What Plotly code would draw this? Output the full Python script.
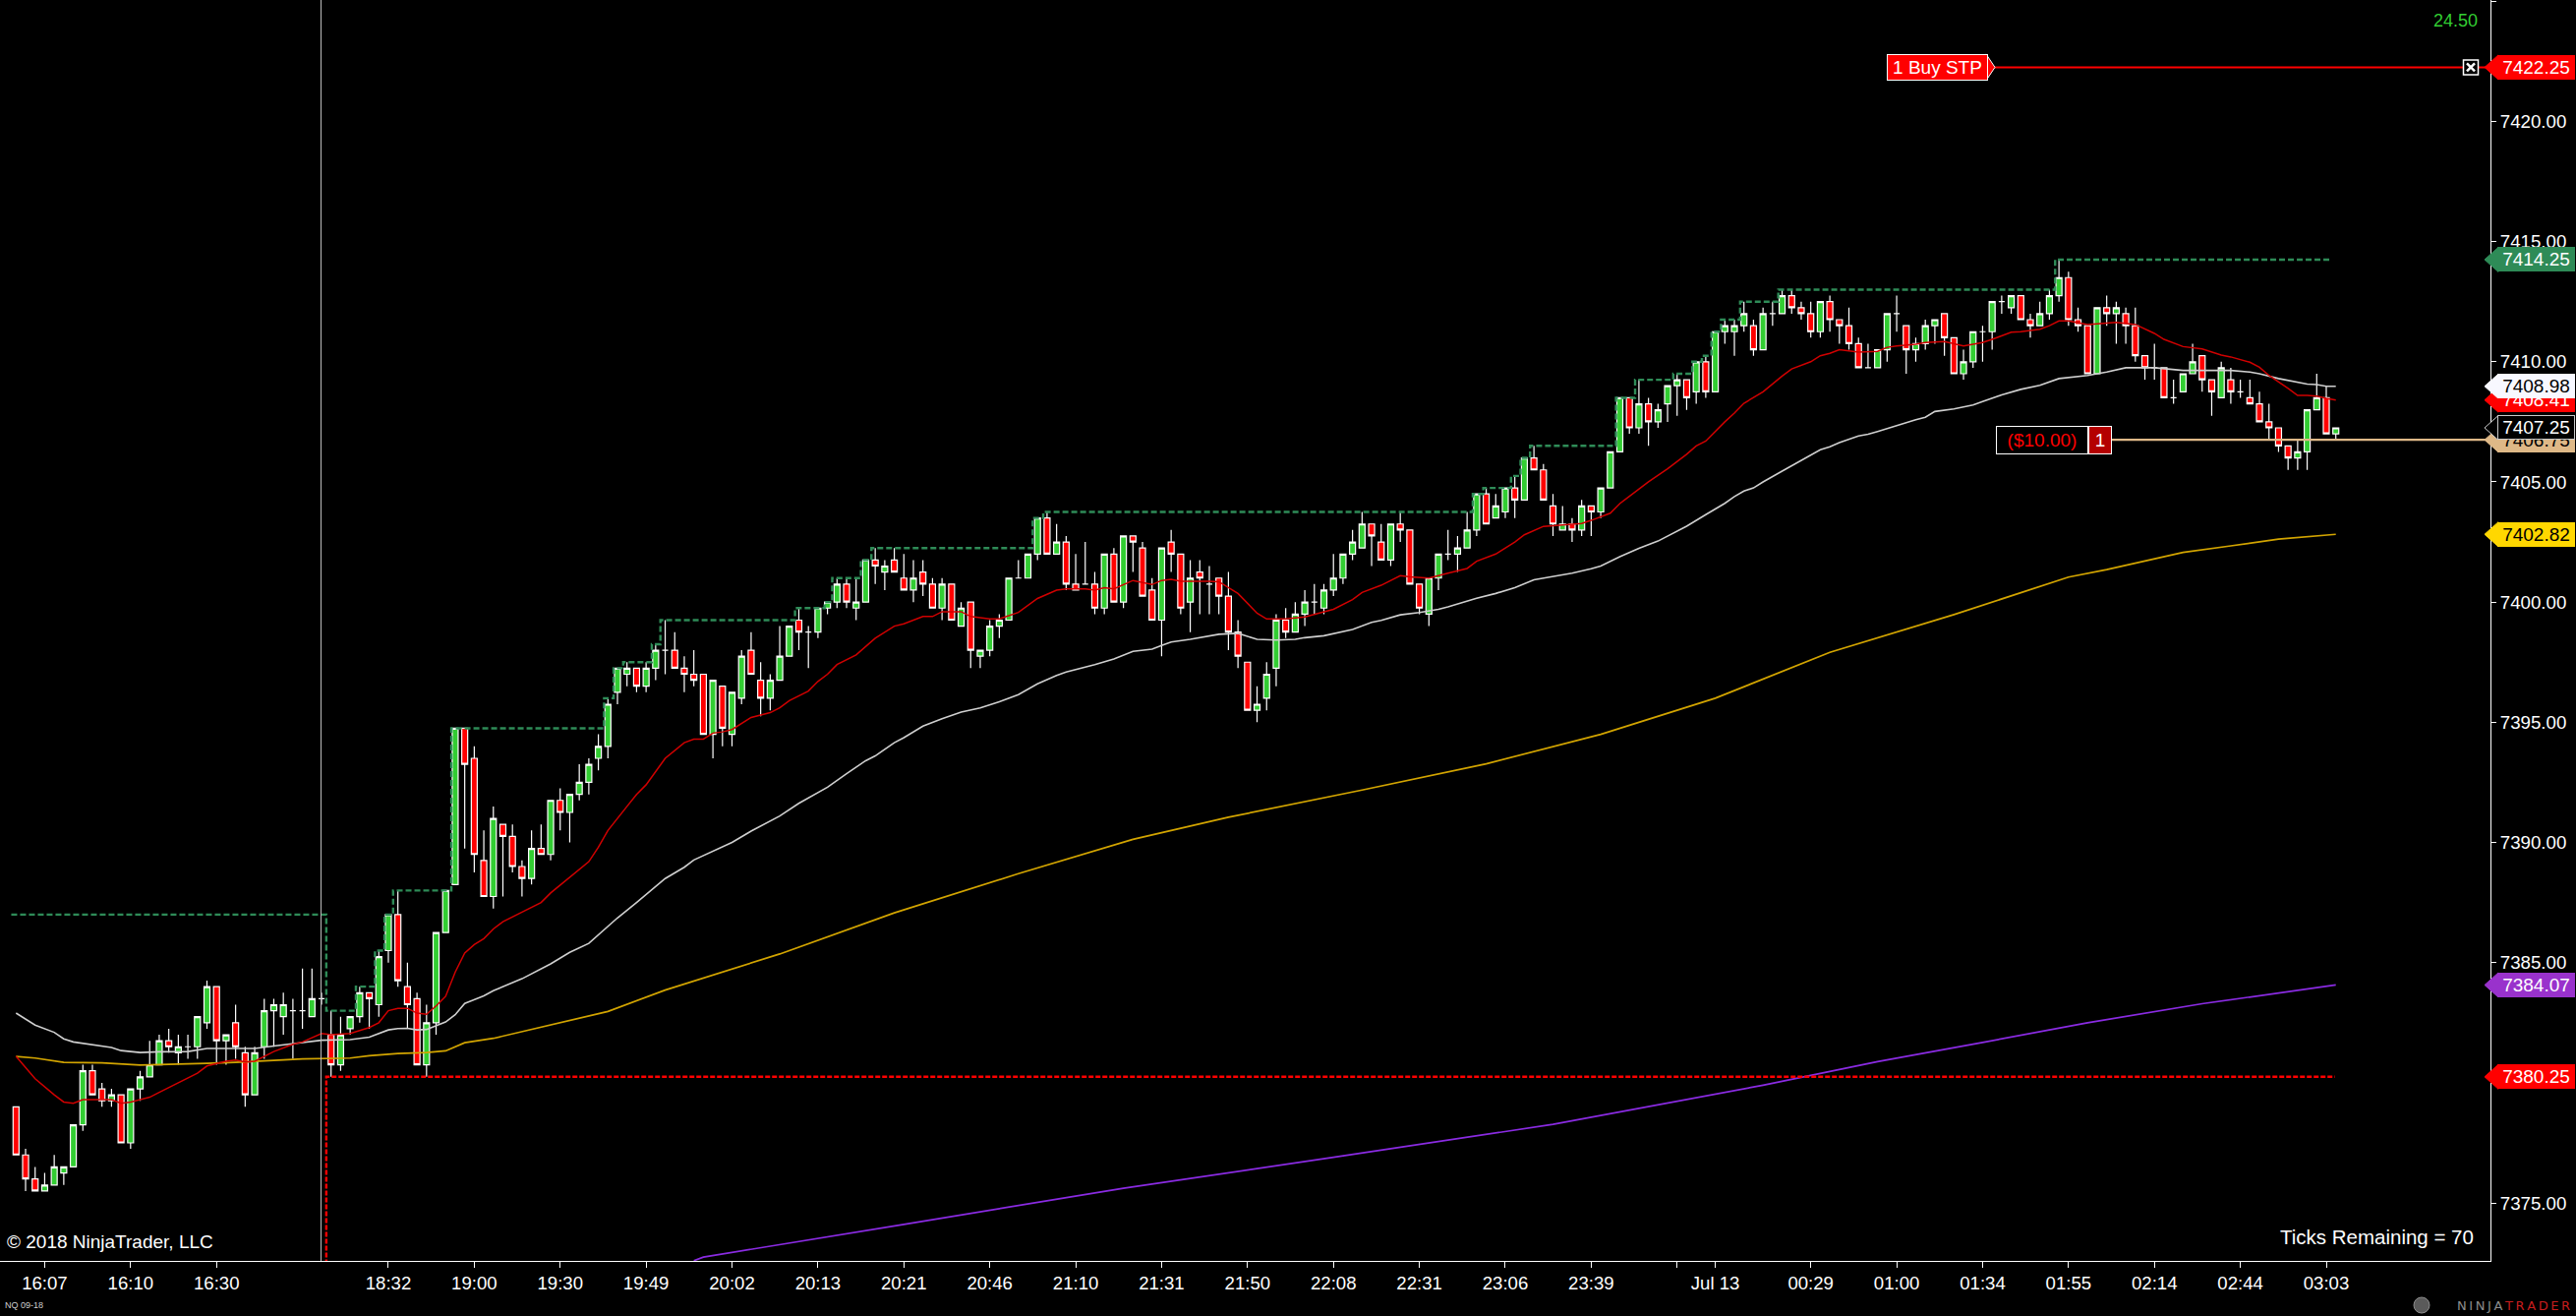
import plotly.graph_objects as go

# ---------------- DATA ----------------
opens = [
7379.0, 7377.0, 7376.0, 7375.5, 7375.75, 7376.25, 7376.5, 7378.25, 7380.5, 7379.75,
7379.25, 7379.5, 7377.5, 7379.75, 7380.25, 7380.75, 7381.75, 7381.25, 7381.5, 7381.5,
7382.5, 7384.0, 7381.75, 7382.5, 7381.25, 7379.5, 7381.5, 7383.0, 7382.75, 7383.0,
7383.0, 7382.75, 7383.5, 7382.0, 7380.75, 7382.25, 7382.75, 7383.75, 7383.25, 7385.5,
7387.0, 7384.0, 7383.5, 7380.75, 7382.5, 7386.25, 7388.25, 7394.75, 7393.5, 7389.25,
7387.75, 7390.75, 7390.25, 7389.0, 7388.5, 7389.75, 7389.5, 7391.75, 7391.25, 7392.0,
7392.5, 7393.5, 7394.0, 7396.25, 7397.0, 7397.25, 7396.5, 7397.25, 7398.0, 7398.0,
7397.25, 7397.0, 7397.0, 7394.5, 7396.5, 7394.5, 7396.0, 7398.0, 7396.75, 7396.0,
7396.75, 7397.75, 7399.25, 7398.75, 7398.75, 7399.75, 7400.0, 7400.75, 7399.75, 7400.0,
7401.75, 7401.25, 7401.75, 7401.0, 7400.5, 7401.25, 7400.75, 7399.75, 7400.75, 7399.0,
7400.0, 7397.75, 7398.0, 7399.0, 7399.25, 7401.0, 7401.0, 7402.0, 7403.5, 7402.0,
7402.5, 7400.75, 7400.75, 7400.75, 7399.75, 7402.0, 7400.0, 7402.75, 7402.25, 7400.5,
7399.25, 7402.5, 7402.0, 7400.0, 7401.25, 7400.75, 7401.0, 7400.25, 7398.75, 7397.5,
7395.5, 7396.0, 7397.25, 7399.25, 7398.75, 7399.5, 7400.0, 7399.75, 7400.5, 7401.0,
7402.0, 7402.25, 7403.25, 7402.5, 7401.75, 7403.25, 7403.0, 7400.75, 7399.5, 7401.0,
7402.0, 7402.0, 7402.25, 7403.0, 7404.5, 7403.5, 7403.75, 7404.75, 7404.25, 7406.0,
7405.5, 7404.0, 7403.0, 7403.25, 7403.0, 7404.0, 7403.75, 7404.75, 7406.25, 7408.5,
7407.25, 7408.25, 7407.5, 7408.25, 7409.0, 7409.25, 7408.75, 7410.0, 7408.75, 7411.25,
7411.25, 7411.5, 7411.5, 7410.5, 7412.0, 7412.0, 7412.75, 7412.25, 7412.0, 7411.25,
7412.5, 7411.75, 7411.5, 7410.75, 7409.75, 7409.75, 7410.5, 7412.0, 7411.5, 7410.5,
7410.75, 7411.5, 7412.0, 7411.0, 7409.5, 7410.0, 7411.25, 7411.25, 7412.5, 7412.25,
7412.75, 7411.75, 7411.5, 7412.0, 7412.75, 7413.5, 7411.75, 7411.5, 7409.5, 7412.25,
7412.0, 7412.0, 7411.5, 7410.25, 7409.75, 7409.75, 7408.5, 7408.75, 7409.5, 7410.25,
7409.25, 7408.5, 7409.25, 7408.75, 7408.5, 7408.25, 7407.5, 7407.25, 7406.5, 7406.0,
7406.25, 7408.0, 7408.5, 7407.0,
]
highs = [
7379.0, 7377.25, 7376.5, 7376.25, 7377.0, 7376.5, 7378.25, 7380.75, 7380.75, 7380.0,
7379.75, 7379.5, 7379.75, 7380.5, 7381.75, 7382.0, 7382.25, 7382.0, 7382.0, 7382.75,
7384.25, 7384.0, 7382.0, 7383.25, 7381.5, 7381.5, 7383.5, 7383.5, 7383.75, 7383.5,
7384.75, 7384.75, 7383.75, 7383.0, 7382.75, 7382.75, 7384.0, 7383.75, 7385.5, 7387.0,
7388.0, 7385.0, 7383.75, 7383.25, 7386.25, 7388.0, 7394.75, 7394.75, 7394.0, 7390.5,
7391.5, 7390.75, 7390.75, 7389.25, 7390.5, 7390.75, 7391.75, 7392.25, 7392.0, 7393.25,
7393.5, 7394.5, 7396.0, 7397.25, 7397.5, 7397.25, 7397.5, 7398.25, 7399.25, 7398.75,
7397.75, 7398.0, 7397.0, 7396.75, 7396.5, 7396.25, 7398.0, 7398.75, 7397.5, 7397.0,
7399.0, 7399.0, 7399.75, 7399.0, 7399.75, 7400.0, 7401.0, 7401.0, 7401.0, 7401.75,
7402.25, 7401.75, 7402.25, 7402.0, 7401.75, 7401.75, 7401.0, 7401.0, 7400.75, 7400.0,
7400.0, 7398.0, 7399.25, 7399.5, 7401.0, 7401.75, 7402.0, 7403.5, 7403.75, 7403.25,
7402.75, 7402.0, 7402.5, 7401.25, 7402.0, 7402.25, 7402.75, 7402.75, 7402.5, 7401.0,
7402.25, 7403.0, 7402.0, 7401.75, 7401.75, 7401.5, 7401.0, 7401.25, 7399.25, 7397.5,
7396.5, 7397.5, 7399.5, 7399.75, 7400.0, 7400.5, 7400.75, 7400.75, 7402.0, 7402.0,
7403.0, 7403.75, 7403.25, 7403.25, 7403.25, 7403.75, 7403.0, 7400.75, 7401.0, 7402.0,
7403.0, 7402.75, 7403.75, 7404.5, 7404.75, 7404.5, 7404.75, 7405.25, 7406.0, 7406.5,
7405.75, 7404.5, 7404.0, 7403.5, 7404.25, 7404.0, 7404.75, 7406.25, 7408.5, 7408.5,
7409.25, 7408.5, 7408.25, 7409.0, 7409.5, 7409.25, 7410.0, 7410.25, 7411.25, 7411.75,
7411.75, 7412.5, 7411.75, 7412.25, 7412.5, 7413.0, 7413.0, 7412.5, 7412.5, 7412.5,
7412.75, 7411.75, 7412.25, 7411.0, 7410.75, 7410.5, 7412.0, 7412.75, 7411.5, 7411.0,
7411.75, 7411.75, 7412.0, 7411.0, 7410.5, 7411.25, 7411.5, 7412.5, 7412.75, 7412.75,
7412.75, 7412.0, 7412.5, 7413.0, 7414.25, 7413.75, 7412.25, 7411.5, 7412.25, 7412.75,
7412.5, 7412.25, 7412.25, 7410.25, 7410.75, 7409.75, 7409.25, 7409.5, 7410.75, 7410.25,
7409.25, 7410.0, 7409.75, 7409.25, 7409.25, 7408.75, 7408.25, 7407.25, 7406.5, 7406.75,
7408.0, 7409.5, 7409.0, 7407.25,
]
lows = [
7377.0, 7375.5, 7375.5, 7375.5, 7375.75, 7375.75, 7376.5, 7378.0, 7379.5, 7379.0,
7379.0, 7377.5, 7377.25, 7379.25, 7380.25, 7380.75, 7381.25, 7380.75, 7381.0, 7381.0,
7382.25, 7380.75, 7380.75, 7381.0, 7379.0, 7379.5, 7381.0, 7381.5, 7382.0, 7381.0,
7382.25, 7382.75, 7383.25, 7380.25, 7380.5, 7382.0, 7382.5, 7382.25, 7382.75, 7385.0,
7384.0, 7382.25, 7380.75, 7380.25, 7382.0, 7386.25, 7388.25, 7389.75, 7388.75, 7387.75,
7387.25, 7387.75, 7388.75, 7387.75, 7388.25, 7389.5, 7389.25, 7390.5, 7390.0, 7391.75,
7392.0, 7393.0, 7393.5, 7395.75, 7396.5, 7396.25, 7396.25, 7396.75, 7397.0, 7397.25,
7396.25, 7396.5, 7394.5, 7393.5, 7394.0, 7394.0, 7395.75, 7397.0, 7395.25, 7395.5,
7396.75, 7397.75, 7398.0, 7397.25, 7398.5, 7399.5, 7399.75, 7399.75, 7399.25, 7400.0,
7400.75, 7400.5, 7401.25, 7400.5, 7400.0, 7400.25, 7399.75, 7399.25, 7399.25, 7399.0,
7397.25, 7397.25, 7397.75, 7398.5, 7399.25, 7401.0, 7401.0, 7401.75, 7402.0, 7402.0,
7400.5, 7400.5, 7400.75, 7399.5, 7399.5, 7400.0, 7399.75, 7401.25, 7400.25, 7399.25,
7397.75, 7401.25, 7399.5, 7398.75, 7399.5, 7399.5, 7399.5, 7398.0, 7397.25, 7395.5,
7395.0, 7395.5, 7396.5, 7398.5, 7398.75, 7399.0, 7399.5, 7399.5, 7400.25, 7400.75,
7401.75, 7402.25, 7401.5, 7401.75, 7401.5, 7402.5, 7400.75, 7399.5, 7399.0, 7400.5,
7401.75, 7401.25, 7402.25, 7402.75, 7403.25, 7403.5, 7403.5, 7403.5, 7404.25, 7405.5,
7404.25, 7402.75, 7403.0, 7402.5, 7402.75, 7402.75, 7403.5, 7404.75, 7406.25, 7407.0,
7407.0, 7406.5, 7407.25, 7407.5, 7407.75, 7408.0, 7408.25, 7408.5, 7408.75, 7410.75,
7410.25, 7411.25, 7410.25, 7410.5, 7411.5, 7412.0, 7412.0, 7411.75, 7411.0, 7411.0,
7411.25, 7410.75, 7410.5, 7409.75, 7409.75, 7409.75, 7410.0, 7411.25, 7409.5, 7410.0,
7410.5, 7410.75, 7410.25, 7409.5, 7409.25, 7409.75, 7410.0, 7410.5, 7412.0, 7412.0,
7411.75, 7411.0, 7411.5, 7411.75, 7412.5, 7411.5, 7411.25, 7409.5, 7409.5, 7411.5,
7410.75, 7410.75, 7410.0, 7409.25, 7409.25, 7408.5, 7408.25, 7408.75, 7409.5, 7408.75,
7407.75, 7408.5, 7408.25, 7408.5, 7408.25, 7407.5, 7406.75, 7406.25, 7405.5, 7405.5,
7405.5, 7408.0, 7407.0, 7406.75,
]
closes = [
7377.0, 7376.0, 7375.5, 7375.75, 7376.5, 7376.5, 7378.25, 7380.5, 7379.5, 7379.25,
7379.5, 7377.5, 7379.75, 7380.25, 7380.75, 7381.75, 7381.5, 7381.5, 7381.5, 7382.75,
7384.0, 7381.75, 7382.0, 7381.5, 7379.5, 7381.25, 7383.0, 7383.25, 7383.25, 7383.0,
7383.0, 7383.5, 7383.5, 7380.75, 7382.0, 7382.75, 7383.75, 7383.5, 7385.25, 7387.0,
7384.25, 7383.25, 7380.75, 7382.5, 7386.25, 7388.0, 7394.75, 7393.25, 7389.5, 7387.75,
7391.0, 7390.25, 7389.0, 7388.5, 7389.75, 7389.5, 7391.75, 7391.25, 7392.0, 7392.5,
7393.25, 7394.0, 7395.75, 7397.25, 7397.25, 7396.5, 7397.25, 7398.0, 7398.0, 7397.25,
7397.0, 7396.75, 7394.5, 7396.75, 7394.75, 7396.25, 7397.75, 7397.0, 7396.0, 7396.75,
7397.75, 7399.0, 7398.75, 7398.75, 7399.75, 7400.0, 7400.75, 7400.0, 7400.0, 7401.75,
7401.5, 7401.5, 7401.25, 7400.5, 7401.0, 7400.75, 7399.75, 7400.75, 7399.25, 7399.75,
7398.0, 7398.0, 7399.0, 7399.25, 7401.0, 7401.0, 7402.0, 7403.5, 7402.0, 7402.5,
7400.75, 7400.5, 7400.75, 7399.75, 7402.0, 7400.0, 7402.75, 7402.5, 7400.25, 7399.25,
7402.25, 7402.0, 7399.75, 7401.0, 7401.0, 7400.75, 7400.25, 7398.75, 7397.75, 7395.5,
7395.75, 7397.0, 7399.25, 7398.75, 7399.5, 7400.0, 7400.0, 7400.5, 7401.0, 7402.0,
7402.5, 7403.25, 7402.75, 7401.75, 7403.25, 7403.0, 7400.75, 7399.75, 7401.0, 7402.0,
7402.0, 7402.25, 7403.0, 7404.5, 7403.25, 7404.0, 7404.75, 7404.25, 7406.0, 7405.5,
7404.25, 7403.25, 7403.25, 7403.0, 7404.0, 7403.75, 7404.75, 7406.25, 7408.5, 7407.25,
7408.25, 7407.5, 7408.0, 7409.0, 7409.25, 7408.5, 7410.0, 7408.75, 7411.25, 7411.5,
7411.5, 7412.0, 7410.5, 7412.0, 7412.0, 7412.75, 7412.25, 7412.0, 7411.25, 7412.5,
7411.75, 7411.5, 7410.75, 7409.75, 7409.75, 7410.5, 7412.0, 7412.0, 7410.5, 7410.75,
7411.5, 7411.75, 7411.0, 7409.5, 7410.0, 7411.25, 7411.25, 7412.5, 7412.5, 7412.75,
7411.75, 7411.5, 7412.0, 7412.75, 7413.5, 7411.75, 7411.5, 7409.5, 7412.25, 7412.0,
7412.25, 7411.5, 7410.25, 7409.75, 7409.75, 7408.5, 7408.5, 7409.5, 7410.0, 7409.25,
7408.75, 7409.75, 7408.75, 7408.75, 7408.25, 7407.5, 7407.25, 7406.5, 7406.0, 7406.25,
7408.0, 7408.5, 7407.0, 7407.25,
]

# fast moving average (red), sampled vertices (bar, value)
fast_ma_bar = [0, 2, 4, 5, 6, 7, 10, 11, 12, 14, 15, 17, 19, 20, 22, 23, 24, 25, 27, 29,
               30, 32, 33, 35, 37, 38, 39, 40, 41, 42, 43, 44, 45, 46, 47, 48, 49, 50, 51, 53,
               55, 56, 59, 60, 61, 62, 64, 65, 66, 68, 70, 71, 72, 73, 74, 75, 77, 78, 79, 80,
               81, 83, 84, 85, 86, 88, 90, 92, 93, 95, 96, 97, 99, 100, 102, 103, 105, 107, 109, 110,
               112, 113, 114, 115, 117, 119, 120, 121, 122, 125, 126, 128, 130, 131, 133, 135, 138, 140, 141, 143,
               145, 146, 148, 150, 152, 153, 155, 157, 158, 160, 162, 164, 165, 167, 168, 170, 171, 173, 175, 176,
               177, 179, 180, 181, 182, 183, 185, 186, 188, 189, 190, 191, 193, 194, 195, 196, 197, 199, 200, 202,
               204, 206, 207, 209, 210, 212, 213, 214, 215, 217, 219, 220, 222, 224, 225, 227, 229, 230, 231, 232,
               234, 235, 236, 238, 239, 240, 241, 242, 243]
fast_ma_val = [7381.1, 7380.17, 7379.5, 7379.2, 7379.15, 7379.3, 7379.3, 7379.15, 7379.2, 7379.4,
               7379.6, 7380.0, 7380.4, 7380.7, 7380.9, 7380.95, 7380.87, 7380.9, 7381.3, 7381.6,
               7381.7, 7382.05, 7382.0, 7382.05, 7382.3, 7382.5, 7383.0, 7383.1, 7383.1, 7382.9,
               7382.85, 7383.2, 7383.6, 7384.6, 7385.4, 7385.75, 7386.0, 7386.4, 7386.7, 7387.1,
               7387.5, 7387.9, 7388.9, 7389.2, 7389.8, 7390.5, 7391.5, 7392.0, 7392.4, 7393.5,
               7394.15, 7394.3, 7394.3, 7394.55, 7394.6, 7394.7, 7395.2, 7395.3, 7395.4, 7395.6,
               7395.9, 7396.3, 7396.7, 7397.0, 7397.4, 7397.8, 7398.5, 7399.0, 7399.1, 7399.4,
               7399.4, 7399.6, 7399.6, 7399.4, 7399.3, 7399.3, 7399.57, 7400.15, 7400.5, 7400.55,
               7400.55, 7400.5, 7400.6, 7400.55, 7400.9, 7400.73, 7400.9, 7400.95, 7400.87, 7400.87,
               7400.85, 7400.36, 7399.54, 7399.3, 7399.3, 7399.38, 7399.7, 7400.1, 7400.4, 7400.7,
               7401.1, 7401.05, 7401.0, 7401.2, 7401.4, 7401.7, 7402.0, 7402.5, 7402.8, 7403.15,
               7403.2, 7403.27, 7403.4, 7403.7, 7404.1, 7404.7, 7405.0, 7405.55, 7406.15, 7406.5,
               7406.7, 7407.5, 7407.86, 7408.27, 7408.5, 7408.75, 7409.4, 7409.7, 7410.0, 7410.25,
               7410.35, 7410.5, 7410.4, 7410.4, 7410.43, 7410.6, 7410.66, 7410.73, 7410.8, 7410.84,
               7410.66, 7410.8, 7410.93, 7411.23, 7411.25, 7411.35, 7411.5, 7411.7, 7411.7, 7411.55,
               7411.6, 7411.64, 7411.55, 7411.18, 7410.93, 7410.63, 7410.53, 7410.39, 7410.28, 7410.2,
               7409.98, 7409.77, 7409.43, 7408.89, 7408.6, 7408.6, 7408.57, 7408.48, 7408.41]

# medium moving average (white)
mid_ma_bar = [0, 2, 4, 5, 6, 8, 10, 11, 13, 15, 18, 20, 22, 24, 25, 27, 30, 32, 35, 37,
              39, 40, 41, 42, 43, 45, 46, 47, 49, 50, 53, 56, 58, 60, 63, 65, 68, 70, 71, 73,
              75, 77, 79, 80, 82, 84, 85, 87, 89, 90, 92, 93, 95, 97, 99, 101, 103, 105, 107, 109,
              110, 113, 115, 117, 119, 120, 121, 123, 125, 126, 128, 130, 132, 134, 135, 137, 140, 142, 143, 145,
              147, 149, 150, 153, 155, 157, 159, 160, 163, 165, 166, 168, 170, 172, 174, 175, 177, 179, 180, 181,
              182, 183, 185, 187, 188, 189, 190, 191, 193, 194, 195, 197, 199, 200, 201, 203, 205, 206, 208, 210,
              212, 214, 215, 217, 219, 220, 221, 224, 225, 227, 230, 232, 234, 235, 237, 239, 240, 241, 242, 243]
mid_ma_val = [7382.9, 7382.4, 7382.1, 7381.83, 7381.7, 7381.6, 7381.47, 7381.34, 7381.26, 7381.29,
              7381.3, 7381.43, 7381.43, 7381.4, 7381.43, 7381.53, 7381.67, 7381.77, 7381.8, 7381.9,
              7382.2, 7382.26, 7382.27, 7382.2, 7382.22, 7382.53, 7382.83, 7383.3, 7383.62, 7383.83,
              7384.33, 7384.95, 7385.43, 7385.8, 7386.86, 7387.5, 7388.5, 7388.97, 7389.27, 7389.65,
              7390.0, 7390.47, 7390.88, 7391.1, 7391.63, 7392.1, 7392.3, 7392.86, 7393.4, 7393.6,
              7394.15, 7394.36, 7394.84, 7395.15, 7395.42, 7395.6, 7395.85, 7396.15, 7396.6, 7396.95,
              7397.09, 7397.4, 7397.63, 7397.95, 7398.04, 7398.2, 7398.34, 7398.45, 7398.6, 7398.66,
              7398.7, 7398.45, 7398.42, 7398.45, 7398.52, 7398.6, 7398.86, 7399.16, 7399.24, 7399.47,
              7399.57, 7399.7, 7399.8, 7400.16, 7400.36, 7400.6, 7400.93, 7401.0, 7401.2, 7401.39,
              7401.5, 7401.89, 7402.24, 7402.54, 7402.95, 7403.16, 7403.64, 7404.11, 7404.39, 7404.62,
              7404.75, 7405.0, 7405.45, 7405.89, 7406.09, 7406.34, 7406.46, 7406.64, 7406.91, 7406.98,
              7407.1, 7407.35, 7407.59, 7407.69, 7407.93, 7408.04, 7408.2, 7408.34, 7408.62, 7408.85,
              7409.02, 7409.3, 7409.34, 7409.43, 7409.57, 7409.67, 7409.75, 7409.75, 7409.71, 7409.64,
              7409.64, 7409.64, 7409.57, 7409.5, 7409.3, 7409.16, 7409.07, 7409.05, 7408.98, 7408.98]

# slow moving average (gold)
slow_ma_bar = [0, 2, 5, 9, 13, 15, 18, 20, 23, 25, 28, 30, 33, 35, 37, 40, 43, 45, 47, 49,
               50, 62, 68, 80, 92, 105, 117, 127, 141, 154, 166, 178, 190, 203, 215, 219, 225, 227,
               232, 237, 243]
slow_ma_val = [7381.1, 7381.03, 7380.85, 7380.83, 7380.74, 7380.76, 7380.76, 7380.81, 7380.85, 7380.88,
               7380.95, 7380.99, 7381.03, 7381.03, 7381.13, 7381.22, 7381.26, 7381.33, 7381.67, 7381.78,
               7381.85, 7382.97, 7383.86, 7385.36, 7387.07, 7388.7, 7390.13, 7391.05,
               7392.18, 7393.27, 7394.5, 7396.0, 7397.91, 7399.48, 7401.04, 7401.35, 7401.9, 7402.07,
               7402.34, 7402.62, 7402.82]

# very slow moving average (purple)
long_ma_bar = [71, 72, 93, 116, 138, 161, 183, 195, 206, 217, 229, 243]
long_ma_val = [7372.6, 7372.75, 7374.11, 7375.61, 7376.9, 7378.27, 7379.9, 7380.88, 7381.68, 7382.5,
               7383.29, 7384.07]

# running swing-high level (green dashed step line)
swing_x = [-0.5, 32.5, 35.6, 37.6, 38.6, 39.5, 45.6, 61.6, 62.6, 63.6, 66.6, 67.5, 81.6, 84.7, 85.5,
           88.5, 89.6, 106.5, 107.6, 152.6, 153.7, 156.6, 157.6, 158.6, 167.6, 169.6, 173.6, 175.6,
           176.6, 177.6, 178.6, 180.6, 184.6, 213.6, 242.6]
swing_y = [7387.0, 7383.0, 7384.0, 7385.5, 7387.0, 7388.0, 7394.75, 7396.0, 7397.25, 7397.5, 7398.25,
           7399.25, 7399.75, 7400.0, 7401.0, 7401.75, 7402.25, 7403.5, 7403.75, 7404.5, 7404.75, 7405.25,
           7406.0, 7406.5, 7408.5, 7409.25, 7409.5, 7410.0, 7410.25, 7411.25, 7411.75, 7412.5, 7413.0,
           7414.25, 7414.25]

session_low = 7380.25
session_start_bar = 32.5
session_break_bar = 31.95
session_end_bar = 242.9

buy_stop_price = 7422.25
entry_price = 7406.75
range_value = "24.50"
position_pnl = "($10.00)"
position_qty = "1"

tick_bars = [3, 12, 21, 39, 48, 57, 66, 75, 84, 93, 102, 111, 120, 129, 138, 147, 156, 165, 174, 178,
             188, 197, 206, 215, 224, 233, 242]
tick_labels = ["16:07", "16:10", "16:30", "18:32", "19:00", "19:30", "19:49", "20:02", "20:13", "20:21",
               "20:46", "21:10", "21:31", "21:50", "22:08", "22:31", "23:06", "23:39", "", "Jul 13",
               "00:29", "01:00", "01:34", "01:55", "02:14", "02:44", "03:03"]

# right-axis price markers: (price, text, fill, text colour, border)
markers = [
    (7422.25, "7422.25", "#FF0000", "white", "#FF0000"),
    (7414.25, "7414.25", "#2E8B57", "white", "#2E8B57"),
    (7408.41, "7408.41", "#FF0000", "white", "#FF0000"),
    (7408.98, "7408.98", "#F8F8FF", "black", "#F8F8FF"),
    (7406.75, "7406.75", "#DEB887", "black", "#DEB887"),
    (7407.25, "7407.25", "#000000", "white", "#C8C8C8"),
    (7402.82, "7402.82", "#FFD700", "black", "#FFD700"),
    (7384.07, "7384.07", "#9932CC", "white", "#9932CC"),
    (7380.25, "7380.25", "#FF0000", "white", "#FF0000"),
]

# ---------------- FIGURE ----------------
W, H = 2620, 1338
ML, MR, MT, MB = 0, 87, 0, 56
PW = W - ML - MR          # plot width in px
PH = H - MT - MB          # plot height in px
X_RANGE = [-1.68, 259.2]
Y_RANGE = [7372.59, 7425.05]
PX_PER_PT = PH / (Y_RANGE[1] - Y_RANGE[0])
FONT = "Liberation Sans, Arial, sans-serif"

def px_to_paper_x(px):
    return (px - ML) / PW

def px_to_price(half_px):
    return half_px / PX_PER_PT

bars = list(range(len(opens)))

fig = go.Figure()

fig.add_trace(go.Candlestick(
    x=bars, open=opens, high=highs, low=lows, close=closes,
    increasing=dict(fillcolor="#32CD32", line=dict(color="white", width=1.2)),
    decreasing=dict(fillcolor="#FF0000", line=dict(color="white", width=1.2)),
    whiskerwidth=0, hoverinfo="skip", name="NQ 09-18",
))

fig.add_trace(go.Scatter(x=long_ma_bar, y=long_ma_val, mode="lines",
                         line=dict(color="#8A2BE2", width=1.7), hoverinfo="skip"))
fig.add_trace(go.Scatter(x=slow_ma_bar, y=slow_ma_val, mode="lines",
                         line=dict(color="#D2A400", width=1.7), hoverinfo="skip"))
fig.add_trace(go.Scatter(x=mid_ma_bar, y=mid_ma_val, mode="lines",
                         line=dict(color="#CFCFCF", width=1.6), hoverinfo="skip"))
fig.add_trace(go.Scatter(x=fast_ma_bar, y=fast_ma_val, mode="lines",
                         line=dict(color="#D00000", width=1.5), hoverinfo="skip"))

fig.add_trace(go.Scatter(x=swing_x, y=swing_y, mode="lines",
                         line=dict(color="#2E8B57", width=2.4, dash="6px,3px", shape="hv"),
                         hoverinfo="skip"))

fig.add_trace(go.Scatter(x=[session_start_bar, session_start_bar, session_end_bar],
                         y=[Y_RANGE[0] - 1, session_low, session_low], mode="lines",
                         line=dict(color="#FF0000", width=2.4, dash="5px,2px"), hoverinfo="skip"))

shapes = []
annotations = []

# session break vertical line
shapes.append(dict(type="line", xref="x", yref="paper", x0=session_break_bar, x1=session_break_bar,
                   y0=0, y1=1, line=dict(color="#BEBEBE", width=1), layer="above"))

# buy stop order line + label
bs_left = 1919
bs_right = 2022
bs_tip = 2029
bs_half = px_to_price(13.5)
shapes.append(dict(type="line", xref="paper", yref="y", x0=px_to_paper_x(bs_tip), x1=1,
                   y0=buy_stop_price, y1=buy_stop_price, line=dict(color="#FF0000", width=2), layer="above"))
shapes.append(dict(type="path", xref="paper", yref="y",
                   path=f"M {px_to_paper_x(bs_right - 2)},{buy_stop_price + bs_half} "
                        f"L {px_to_paper_x(bs_tip)},{buy_stop_price} "
                        f"L {px_to_paper_x(bs_right - 2)},{buy_stop_price - bs_half} Z",
                   fillcolor="#FF0000", line=dict(color="white", width=1), layer="above"))
annotations.append(dict(xref="paper", yref="y", x=px_to_paper_x(bs_left), y=buy_stop_price,
                        xanchor="left", yanchor="middle", text="1 Buy STP", showarrow=False,
                        bgcolor="#FF0000", bordercolor="white", borderwidth=1, borderpad=1,
                        width=bs_right - bs_left - 4, height=23, align="center",
                        font=dict(family=FONT, size=19, color="white")))
# close "X" box
xb0, xb1 = 2505.5, 2520.5
xb_half = px_to_price(7.5)
shapes.append(dict(type="rect", xref="paper", yref="y", x0=px_to_paper_x(xb0), x1=px_to_paper_x(xb1),
                   y0=buy_stop_price - xb_half, y1=buy_stop_price + xb_half,
                   fillcolor="black", line=dict(color="white", width=1.5), layer="above"))
ix = 3.5
xi = px_to_price(xb1 - xb0 - 2 * ix) / 2
for s in (1, -1):
    shapes.append(dict(type="line", xref="paper", yref="y",
                       x0=px_to_paper_x(xb0 + ix), x1=px_to_paper_x(xb1 - ix),
                       y0=buy_stop_price + s * xi, y1=buy_stop_price - s * xi,
                       line=dict(color="white", width=2.5), layer="above"))

# entry (position) line + labels
pos_box_left = 2030
pos_box_mid = 2124
pos_box_right = 2148
shapes.append(dict(type="line", xref="paper", yref="y", x0=px_to_paper_x(pos_box_right), x1=1,
                   y0=entry_price, y1=entry_price, line=dict(color="#DEB887", width=2.2), layer="above"))
annotations.append(dict(xref="paper", yref="y", x=px_to_paper_x(pos_box_left), y=entry_price,
                        xanchor="left", yanchor="middle", text=position_pnl, showarrow=False,
                        bgcolor="black", bordercolor="white", borderwidth=1, borderpad=1,
                        width=pos_box_mid - pos_box_left - 4, height=25, align="center",
                        font=dict(family=FONT, size=19, color="#FF0000")))
annotations.append(dict(xref="paper", yref="y", x=px_to_paper_x(pos_box_mid), y=entry_price,
                        xanchor="left", yanchor="middle", text=position_qty, showarrow=False,
                        bgcolor="#B40000", bordercolor="white", borderwidth=1, borderpad=1,
                        width=pos_box_right - pos_box_mid - 4, height=25, align="center",
                        font=dict(family=FONT, size=19, color="white")))

# right-axis price flags
flag_tip = 2527
flag_left = 2540
flag_half = px_to_price(12.5)
for price, txt, fill, tcol, bcol in markers:
    shapes.append(dict(type="path", xref="paper", yref="y",
                       path=f"M {px_to_paper_x(flag_tip)},{price} "
                            f"L {px_to_paper_x(flag_left + 1)},{price + flag_half} "
                            f"L {px_to_paper_x(flag_left + 1)},{price - flag_half} Z",
                       fillcolor=fill, line=dict(color=bcol, width=1), layer="above"))
    annotations.append(dict(xref="paper", yref="y", x=px_to_paper_x(flag_left), y=price,
                            xanchor="left", yanchor="middle", text=txt, showarrow=False,
                            bgcolor=fill, bordercolor=bcol, borderwidth=1, borderpad=1,
                            width=75, height=21, align="center",
                            font=dict(family=FONT, size=19, color=tcol)))

# texts
annotations.append(dict(xref="paper", yref="paper", x=px_to_paper_x(2497), y=1 - 21 / PH,
                        xanchor="center", yanchor="middle", text=range_value, showarrow=False,
                        font=dict(family=FONT, size=18, color="#32CD32")))
annotations.append(dict(xref="paper", yref="paper", x=px_to_paper_x(5), y=1 - 1262 / PH,
                        xanchor="left", yanchor="middle", text="© 2018 NinjaTrader, LLC", showarrow=False,
                        font=dict(family=FONT, size=19, color="white")))
annotations.append(dict(xref="paper", yref="paper", x=px_to_paper_x(2518), y=1 - 1257 / PH,
                        xanchor="right", yanchor="middle", text="Ticks Remaining = 70", showarrow=False,
                        font=dict(family=FONT, size=20.5, color="white")))
annotations.append(dict(xref="paper", yref="paper", x=px_to_paper_x(3), y=1 - 1327 / PH,
                        xanchor="left", yanchor="middle", text="NQ 09-18", showarrow=False,
                        font=dict(family=FONT, size=9, color="#D0D0D0")))
annotations.append(dict(xref="paper", yref="paper", x=px_to_paper_x(2616), y=1 - 1327 / PH,
                        xanchor="right", yanchor="middle",
                        text="<span style='color:#8C8C8C'>N\u2009I\u2009N\u2009J\u2009A</span>"
                             "<span style='color:#C81E1E'>\u2009T\u2009R\u2009A\u2009D\u2009E\u2009R</span>",
                        showarrow=False, font=dict(family="DejaVu Sans, sans-serif", size=13)))
shapes.append(dict(type="circle", xref="paper", yref="paper",
                   x0=px_to_paper_x(2455), x1=px_to_paper_x(2471),
                   y0=1 - 1335 / PH, y1=1 - 1319 / PH,
                   fillcolor="#5A5A5A", line=dict(color="#8C8C8C", width=1)))

fig.update_layout(
    width=W, height=H,
    margin=dict(l=ML, r=MR, t=MT, b=MB, pad=0),
    paper_bgcolor="black", plot_bgcolor="black",
    showlegend=False, hovermode=False,
    boxgap=0.38, boxgroupgap=0,
    font=dict(family=FONT, color="white", size=19),
    shapes=shapes, annotations=annotations,
    xaxis=dict(range=X_RANGE, showgrid=False, zeroline=False, showline=True, linecolor="white",
               linewidth=1, ticks="outside", ticklen=6, tickcolor="white", tickwidth=1,
               tickvals=tick_bars, ticktext=tick_labels,
               tickfont=dict(family=FONT, size=18.6, color="white"),
               rangeslider=dict(visible=False), fixedrange=True, automargin=False),
    yaxis=dict(range=Y_RANGE, side="right", showgrid=False, zeroline=False, showline=True,
               linecolor="white", linewidth=1, ticks="outside", ticklen=5, tickcolor="white",
               tick0=7375, dtick=5, tickformat=".2f",
               tickfont=dict(family=FONT, size=18.7, color="white"),
               fixedrange=True, automargin=False),
)

page_fix = ("document.documentElement.style.margin='0';document.documentElement.style.background='black';"
            "document.body.style.margin='0';document.body.style.padding='0';"
            "document.body.style.background='black';document.body.style.overflow='hidden';")

fig.write_html("out.html", post_script=page_fix, config={"displayModeBar": False})
